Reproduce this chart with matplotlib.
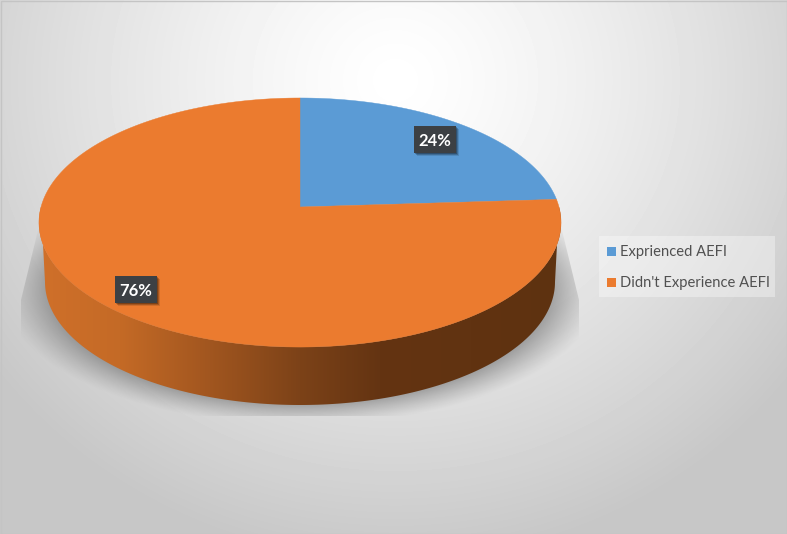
import numpy as np
import matplotlib
matplotlib.use('Agg')
import matplotlib.pyplot as plt
from matplotlib.patches import Polygon, Rectangle

labels = ['Exprienced AEFI', "Didn't Experience AEFI"]
values = [24, 76]
pct_labels = ['24%', '76%']
colors = ['#5b9bd5', '#eb7b2f']

plt.rcParams['font.family'] = ['Lato', 'DejaVu Sans']

W, H = 787, 534
fig = plt.figure(figsize=(W / 100, H / 100), dpi=100)
ax = fig.add_axes([0, 0, 1, 1])
ax.set_xlim(0, W)
ax.set_ylim(H, 0)
ax.axis('off')

# background, radial grey
yy, xx = np.mgrid[0:H, 0:W]
d = np.sqrt(((xx - 395) / 500) ** 2 + ((yy - 80) / 480) ** 2)
bg = 255 - 56 * np.clip(d, 0, 1) ** 1.3
ax.imshow(bg, cmap='gray', vmin=0, vmax=255, extent=[0, W, H, 0], aspect='auto', zorder=0)

# pie geometry, a circle seen in perspective
cx, apex_y = 300, 207
bx, ay, k = 259, 122.6, 0.1246
depth_cy, depth_rx, depth_ry = 282, 255, 123


def proj(t):
    u, v = np.sin(t), np.cos(t)
    return cx + bx * u / (1 + k * v), apex_y - ay * v / (1 + k * v)


# soft shadow under the pie
d2 = np.sqrt(((xx - 300) / 262) ** 2 + ((yy - 290) / 118) ** 2)
a = np.clip((1.14 - d2) / 0.2, 0, 1)
shadow = np.zeros((H, W, 4))
shadow[..., :3] = 0.42
shadow[..., 3] = 0.62 * a ** 1.2
im = ax.imshow(shadow, extent=[0, W, H, 0], aspect='auto', zorder=1)
clip = Polygon([(40, 222), (21, 300), (21, 416), (579, 416), (579, 300), (560, 222)],
               transform=ax.transData, fc='none', ec='none')
ax.add_patch(clip)
im.set_clip_path(clip)

# side wall with left to right gradient
t = np.linspace(np.pi * 0.5, np.pi * 1.5, 200)
tx, ty = proj(t)
lo_x = cx + depth_rx * np.sin(t)
lo_y = depth_cy - depth_ry * np.cos(t)
wall = Polygon(np.r_[np.c_[tx, ty], np.c_[lo_x[::-1], lo_y[::-1]]], transform=ax.transData,
               fc='none', ec='none')
ax.add_patch(wall)
stops_x = [39, 120, 200, 300, 380, 561]
stops_r = [208, 196, 165, 124, 100, 94]
stops_g = [112, 106, 88, 66, 52, 50]
stops_b = [42, 38, 32, 24, 18, 16]
grad = np.stack([np.interp(np.arange(W), stops_x, c) for c in (stops_r, stops_g, stops_b)], axis=1) / 255
im2 = ax.imshow(grad[np.newaxis, :, :], extent=[0, W, H, 0], aspect='auto', zorder=2, interpolation='bilinear')
im2.set_clip_path(wall)

# top face, slices clockwise from 12 o'clock
start = 0.0
for val, col in zip(values, colors):
    end = start + val / sum(values) * 2 * np.pi
    t = np.linspace(start, end, 200)
    px, py = proj(t)
    ax.add_patch(Polygon(np.r_[[[cx, apex_y]], np.c_[px, py]], fc=col, ec=col, lw=0.3, zorder=3))
    start = end

# percent labels
label_xy = [(435, 140), (136, 290)]
for txt, (x, y) in zip(pct_labels, label_xy):
    for off, al in ((3, 0.12), (2, 0.2), (1, 0.25)):
        ax.add_patch(Rectangle((x - 21 + off, y - 14 + off), 42, 27, fc='#000000', alpha=al, ec='none', zorder=4))
    ax.add_patch(Rectangle((x - 21, y - 14), 42, 27, fc='#3c4044', ec='none', zorder=5))
    ax.text(x, y + 1, txt, color='white', fontsize=12, fontweight='bold', ha='center', va='center', zorder=6)

# legend
ax.add_patch(Rectangle((599, 236), 176, 61, fc='white', alpha=0.35, ec='none', zorder=3))
for i, (lab, col) in enumerate(zip(labels, colors)):
    y = 251 + 31 * i
    ax.add_patch(Rectangle((607, y - 4.5), 9, 9, fc=col, ec='none', zorder=4))
    ax.text(620, y + 1, lab, color='#505050', fontsize=10.6, ha='left', va='center', zorder=4)

ax.add_patch(Rectangle((0.5, 0.5), W - 1, H - 1, fc='none', ec='#c4c4c4', lw=1, zorder=7))

fig.savefig('out.png', dpi=100)
